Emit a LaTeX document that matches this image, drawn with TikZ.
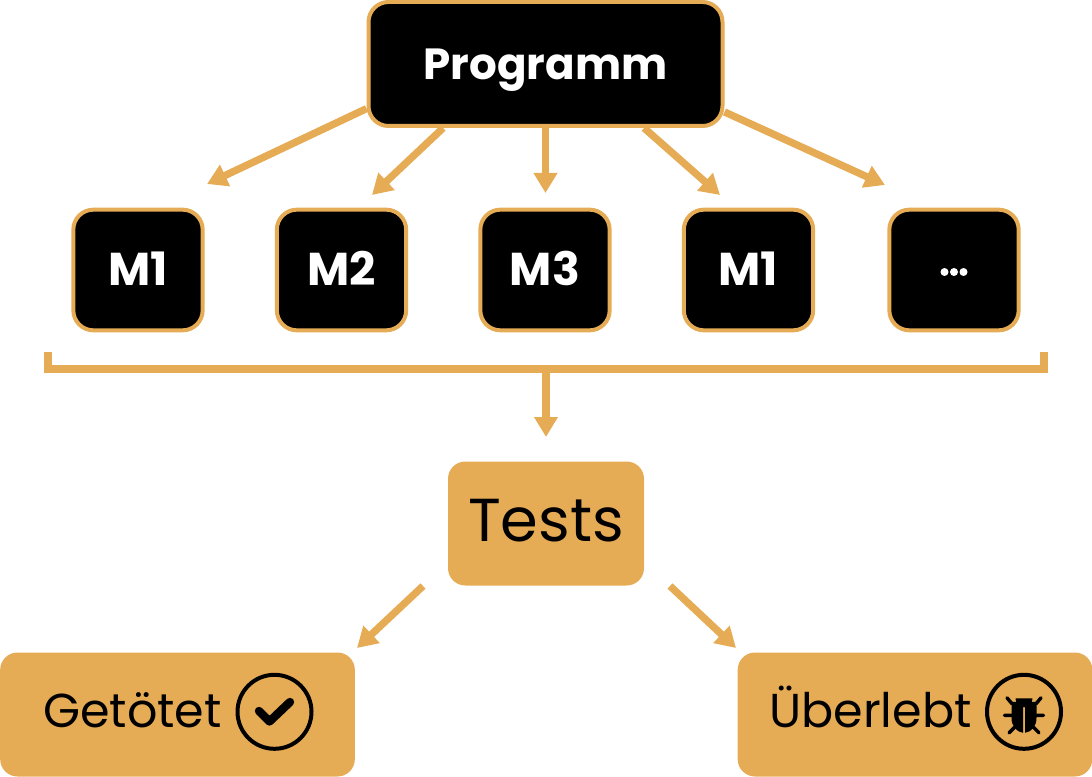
\documentclass[tikz,border=0pt]{standalone}
\usepackage{fontspec}
\setmainfont{Poppins}
\usetikzlibrary{arrows.meta}
\definecolor{gold}{HTML}{E6AC55}
\tikzset{
 px/.style={x=0.75pt,y=-0.75pt},
 blackbox/.style={draw=gold,line width=3pt,fill=black,text=white,rounded corners=15pt,inner sep=0pt,text height=24pt,text depth=0pt,font=\bfseries\fontsize{32.7}{32.7}\selectfont},
 mbox/.style={blackbox,minimum width=97pt,minimum height=90.5pt,font=\bfseries\fontsize{34.5}{34.5}\selectfont},
 goldbox/.style={fill=gold,text=black,rounded corners=13pt,inner sep=0pt},
 arrowline/.style={draw=gold,line width=5.5pt,-{Triangle[length=15pt,width=17pt]}},
 iconline/.style={draw=black,line width=3pt},
 labeltext/.style={font=\fontsize{35.7}{35.7}\selectfont,anchor=base,inner sep=0pt},
}
\begin{document}
\begin{tikzpicture}[px]
\useasboundingbox (0,0) rectangle (1092,777);
\node[blackbox,minimum width=265.5pt,minimum height=93pt] (prog) at (545.5,64) {Programm};
\node[mbox] (m1) at (138,270) {M1};
\node[mbox] (m2) at (341.5,270) {M2};
\node[mbox] (m3) at (545,270) {M3};
\node[mbox] (m4) at (748.5,270) {M1};
\node[mbox] (m5) at (954,270) {};
\foreach \i in {-1,0,1}{\fill[white] (954+\i*9.5,272) circle (3pt);}
\node[goldbox,minimum width=147pt,minimum height=93pt,text height=27.5pt,text depth=0pt,font=\fontsize{45.5}{45.5}\selectfont] (tests) at (546,523.5) {Tests};
\node[goldbox,minimum width=266pt,minimum height=93pt] (get) at (177.5,714.5) {};
\node[goldbox,minimum width=266pt,minimum height=93pt] (ueb) at (915,714.5) {};
\node[labeltext] (gettext) at (132.5,727) {Getötet};
\node[labeltext] (uebtext) at (870.5,727) {Überlebt};
\coordinate (a1) at (207,184); \coordinate (a2) at (372,195); \coordinate (a3) at (545.5,193);
\coordinate (a4) at (720,195); \coordinate (a5) at (885,185);
\draw[arrowline] (prog.194.6) -- (a1);
\draw[arrowline] (prog.212.6) -- (a2);
\draw[arrowline] (prog.south) -- (a3);
\draw[arrowline] (prog.327.6) -- (a4);
\draw[arrowline] (prog.345.4) -- (a5);
\coordinate (bl) at (48,352); \coordinate (br) at (1044,352); \coordinate (bm) at (546,369);
\draw[gold,line width=6pt] (bl) |- (bm) -| (br);
\coordinate (ta) at (546,437);
\draw[arrowline] (bm) -- (ta);
\coordinate (g1) at (423,586); \coordinate (g2) at (357,648);
\coordinate (u1) at (670,586); \coordinate (u2) at (736,648);
\draw[arrowline] (g1) -- (g2);
\draw[arrowline] (u1) -- (u2);
% check icon
\coordinate (cc) at (274.5,711.8);
\draw[iconline] (cc) circle (27.75pt);
\draw[black,line width=6.3pt,line cap=round,line join=round] (259,711) -- (269.5,721.5) -- (290,702);
% bug icon
\coordinate (bc) at (1024,711.8);
\draw[iconline] (bc) circle (27.75pt);
\begin{scope}[shift={(bc)}]
\fill[black] (-8.5,-13.5) arc (180:0:8.5 and 9) -- cycle;
\fill[black] (-12.5,-10) -- (-1,-10) -- (-1,21) .. controls (-8,20) and (-12.5,14) .. (-12.5,6) -- cycle;
\fill[black] (12.5,-10) -- (1,-10) -- (1,21) .. controls (8,20) and (12.5,14) .. (12.5,6) -- cycle;
\draw[black,line width=2.6pt,line cap=round] (-12,-8) -- (-17,-14) (12,-8) -- (17,-14) (-12,3.5) -- (-19.5,3.5) (12,3.5) -- (19.5,3.5) (-9,15) -- (-15,21) (9,15) -- (15,21);
\end{scope}
\end{tikzpicture}
\end{document}
